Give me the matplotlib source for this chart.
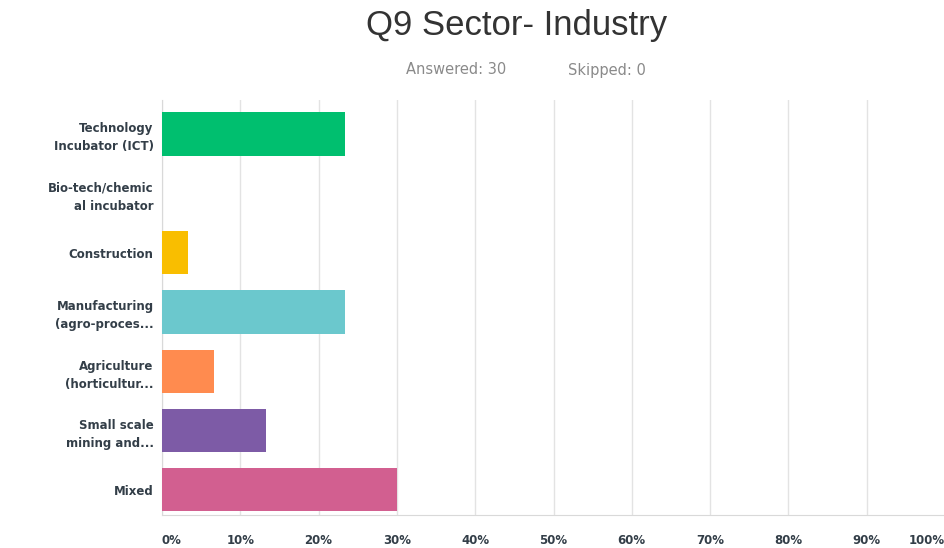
import numpy as np
import matplotlib.pyplot as plt

categories = ['Technology\nIncubator (ICT)', 'Bio-tech/chemic\nal incubator', 'Construction',
              'Manufacturing\n(agro-proces...', 'Agriculture\n(horticultur...', 'Small scale\nmining and...',
              'Mixed']
values = [23.33, 0.0, 3.33, 23.33, 6.67, 13.33, 30.0]
colors = ['#00BF6F', '#507CB6', '#F9BE00', '#6BC8CD', '#FF8B4F', '#7D5BA6', '#D25F90']
ticks = [0, 10, 20, 30, 40, 50, 60, 70, 80, 90, 100]
tick_labels = ['%d%%' % t for t in ticks]

fig = plt.figure(figsize=(9.44, 5.48), dpi=100)
ax = fig.add_axes([162/944, 1 - 515/548, (945-162)/944, (515-100)/548])

y = np.arange(len(categories))
ax.barh(y, values, height=0.73, color=colors, zorder=3)
ax.set_ylim(6.425, -0.573)
ax.set_xlim(0, 100)

ax.set_yticks(y)
ax.set_yticklabels(categories, fontsize=8.5, fontweight='bold', color='#333e48', linespacing=1.5)
ax.set_xticks(ticks)
ax.set_xticklabels(tick_labels, fontsize=8.5, fontweight='bold', color='#333e48')
lbls = ax.get_xticklabels()
lbls[0].set_horizontalalignment('left')
lbls[-1].set_horizontalalignment('right')
ax.tick_params(axis='both', length=0)
ax.tick_params(axis='y', pad=6)
ax.tick_params(axis='x', pad=14)

ax.grid(axis='x', color='#e3e3e3', linewidth=1, zorder=0)
for s in ['top', 'right']:
    ax.spines[s].set_visible(False)
ax.spines['left'].set_color('#d9d9d9')
ax.spines['bottom'].set_color('#d9d9d9')

fig.text(517/944, 1 - 25/548, 'Q9 Sector- Industry', ha='center', va='center',
         fontsize=25, color='#333333', family='Liberation Sans')
fig.text(456/944, 1 - 70/548, 'Answered: 30', ha='center', va='center',
         fontsize=10.5, color='#8a8a8a')
fig.text(607/944, 1 - 70/548, 'Skipped: 0', ha='center', va='center',
         fontsize=10.5, color='#8a8a8a')

fig.savefig('out.png', dpi=100)
